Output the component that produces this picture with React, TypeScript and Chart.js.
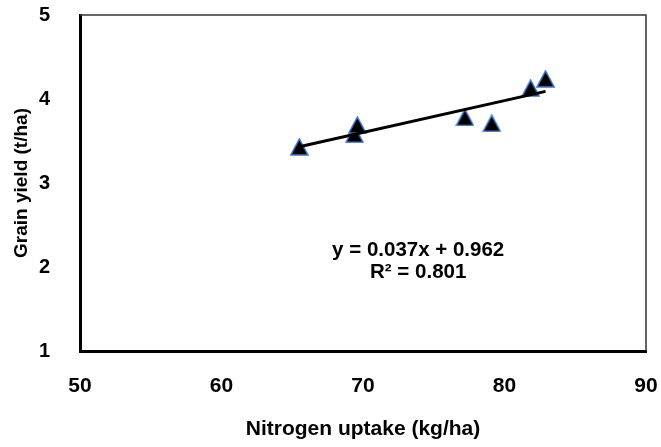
import React, { useEffect, useRef } from "react";
import { Chart, registerables } from "chart.js";

Chart.register(...registerables);

const nitrogenUptake = [65.5, 69.4, 69.6, 77.2, 79.1, 81.85, 82.9];
const grainYield = [3.43, 3.58, 3.69, 3.78, 3.71, 4.13, 4.24];
const xTicks = [50, 60, 70, 80, 90];
const yTicks = [1, 2, 3, 4, 5];
const equationLines = ["y = 0.037x + 0.962", "R² = 0.801"];
const equationAnchor = [73.9, 2.2];

const FONT = "'Liberation Sans', Arial, sans-serif";

function regression(xs: number[], ys: number[]) {
  const n = xs.length;
  const mx = xs.reduce((a, b) => a + b, 0) / n;
  const my = ys.reduce((a, b) => a + b, 0) / n;
  let sxy = 0, sxx = 0;
  for (let i = 0; i < n; i++) {
    sxy += (xs[i] - mx) * (ys[i] - my);
    sxx += (xs[i] - mx) * (xs[i] - mx);
  }
  const slope = sxy / sxx;
  return { slope, intercept: my - slope * mx };
}

function makeTriangle() {
  const c = document.createElement("canvas");
  const w = 19, h = 18;
  c.width = w;
  c.height = h;
  const ctx = c.getContext("2d")!;
  ctx.beginPath();
  ctx.moveTo(w / 2, 1);
  ctx.lineTo(w - 1, h - 1);
  ctx.lineTo(1, h - 1);
  ctx.closePath();
  ctx.fillStyle = "#000";
  ctx.fill();
  ctx.lineWidth = 1.5;
  ctx.strokeStyle = "#3f74c8";
  ctx.stroke();
  return c;
}

const noPad = (s: any) => {
  s.paddingTop = 0;
  s.paddingBottom = 0;
  s.paddingLeft = 0;
  s.paddingRight = 0;
};

export default function App() {
  const ref = useRef<HTMLCanvasElement>(null);
  useEffect(() => {
    const { slope, intercept } = regression(nitrogenUptake, grainYield);
    const xmin = Math.min(...nitrogenUptake);
    const xmax = Math.max(...nitrogenUptake);
    const tri = makeTriangle();

    const framePlugin = {
      id: "frame",
      afterDraw(chart: any) {
        const { ctx, chartArea } = chart;
        ctx.save();
        ctx.strokeStyle = "#333";
        ctx.lineWidth = 1.5;
        ctx.beginPath();
        ctx.moveTo(chartArea.left, chartArea.top);
        ctx.lineTo(chartArea.right, chartArea.top);
        ctx.lineTo(chartArea.right, chartArea.bottom);
        ctx.stroke();
        const xs = chart.scales.x, ys = chart.scales.y;
        ctx.fillStyle = "#000";
        ctx.font = `bold 20.5px ${FONT}`;
        ctx.textAlign = "center";
        ctx.textBaseline = "middle";
        const px = xs.getPixelForValue(equationAnchor[0]);
        const py = ys.getPixelForValue(equationAnchor[1]);
        equationLines.forEach((t, i) => ctx.fillText(t, px, py + i * 22));
        ctx.restore();
      },
    };

    const chart = new Chart(ref.current!, {
      type: "scatter",
      data: {
        datasets: [
          {
            type: "line",
            data: [
              { x: xmin, y: slope * xmin + intercept },
              { x: xmax, y: slope * xmax + intercept },
            ],
            borderColor: "#000",
            borderWidth: 3,
            pointRadius: 0,
            fill: false,
            order: 0,
          } as any,
          {
            data: nitrogenUptake.map((x, i) => ({ x, y: grainYield[i] })),
            pointStyle: tri as any,
            pointRadius: 9,
            order: 1,
          },
        ],
      },
      options: {
        animation: false,
        responsive: false,
        layout: { padding: { left: 0, top: 15, right: 15, bottom: 0 } },
        plugins: { legend: { display: false }, tooltip: { enabled: false } },
        scales: {
          x: {
            type: "linear",
            min: 50,
            max: 90,
            afterFit: (s: any) => { s.height = 96; noPad(s); },
            afterBuildTicks: (s: any) => { s.ticks = xTicks.map((v) => ({ value: v })); },
            grid: { display: false, drawTicks: false },
            border: { display: true, color: "#000", width: 3 },
            ticks: { color: "#000", padding: 23, font: { family: FONT, size: 21, weight: "bold" } },
            title: {
              display: true,
              text: "Nitrogen uptake (kg/ha)",
              color: "#000",
              font: { family: FONT, size: 21, weight: "bold" },
              padding: { top: 0, bottom: 5 },
            },
          },
          y: {
            type: "linear",
            min: 1,
            max: 5,
            afterFit: (s: any) => { s.width = 80; noPad(s); },
            afterBuildTicks: (s: any) => { s.ticks = yTicks.map((v) => ({ value: v })); },
            grid: { display: false, drawTicks: false },
            border: { display: true, color: "#000", width: 3 },
            ticks: { color: "#000", padding: 30, font: { family: FONT, size: 20, weight: "bold" } },
            title: {
              display: true,
              text: "Grain yield (t/ha)",
              color: "#000",
              font: { family: FONT, size: 19, weight: "bold" },
              padding: { top: 10, bottom: 0 },
            },
          },
        },
      },
      plugins: [framePlugin],
    });
    return () => chart.destroy();
  }, []);
  return (
    <div style={{ position: "fixed", left: 0, top: 0, width: 661, height: 447, background: "#fff" }}>
      <canvas ref={ref} width={661} height={447} />
    </div>
  );
}
